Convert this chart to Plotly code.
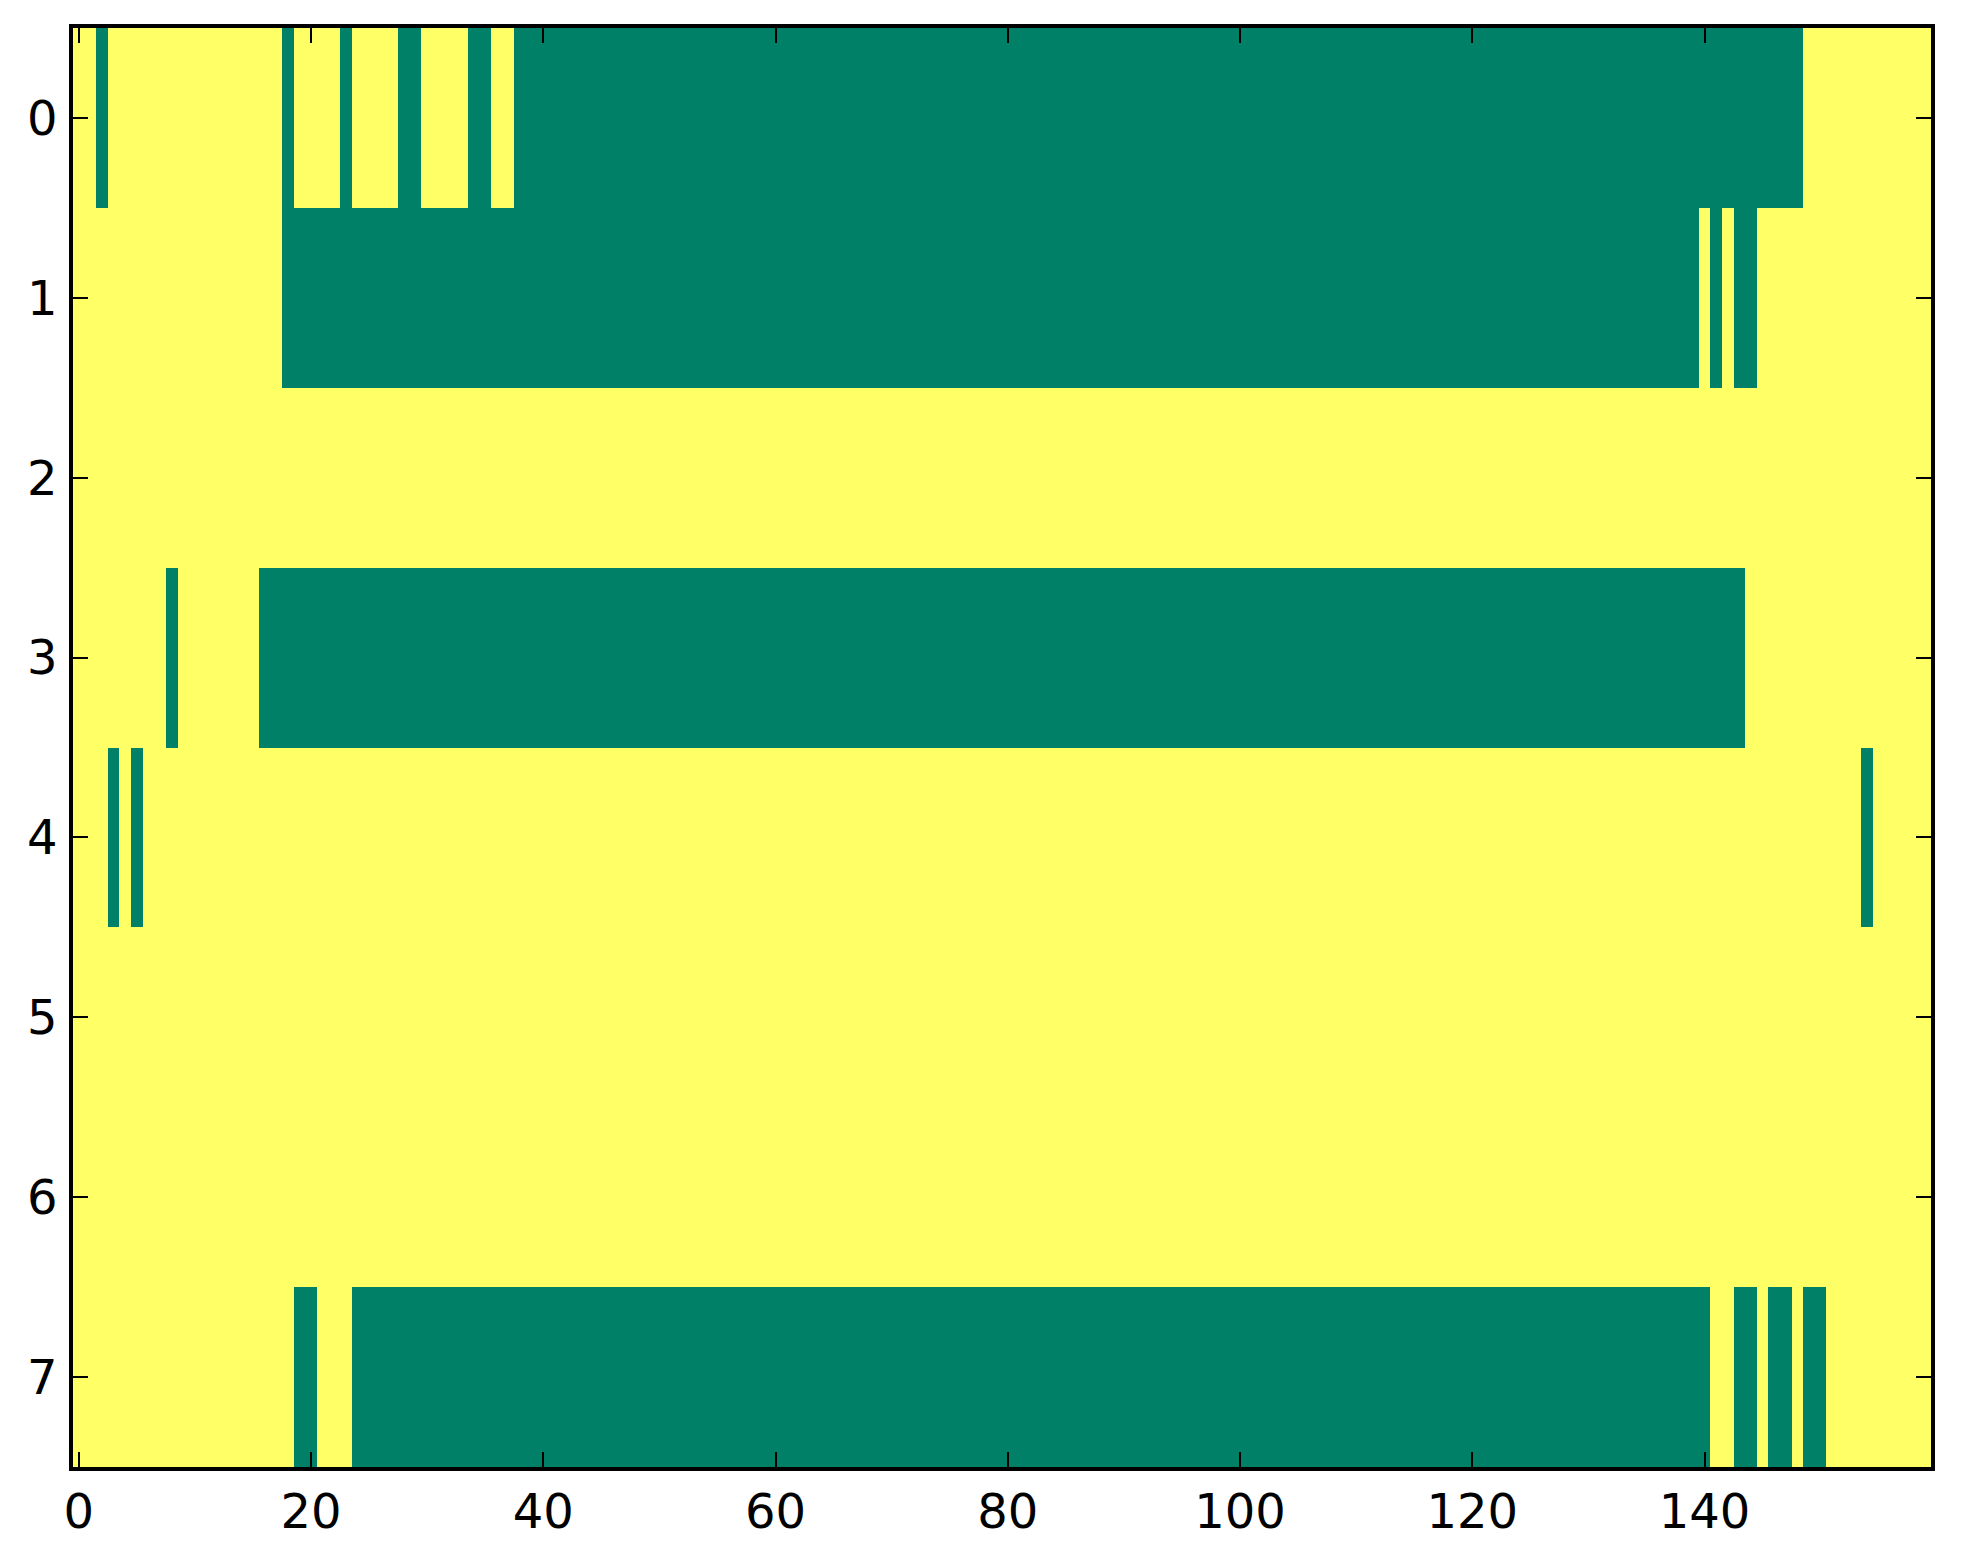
import plotly.graph_objects as go

n_cols = 160
row_labels = [0, 1, 2, 3, 4, 5, 6, 7]
# green (value 0) column runs per row, inclusive [start, end]
row0_green = [(2, 2), (18, 18), (23, 23), (28, 29), (34, 35), (38, 148)]
row1_green = [(18, 139), (141, 141), (143, 144)]
row2_green = []
row3_green = [(8, 8), (16, 143)]
row4_green = [(3, 3), (5, 5), (154, 154)]
row5_green = []
row6_green = []
row7_green = [(19, 20), (24, 140), (143, 144), (146, 147), (149, 150)]
green_runs = [row0_green, row1_green, row2_green, row3_green,
              row4_green, row5_green, row6_green, row7_green]
x_ticks = [0, 20, 40, 60, 80, 100, 120, 140]

z = []
for runs in green_runs:
    row = [1] * n_cols
    for a, b in runs:
        for c in range(a, b + 1):
            row[c] = 0
    z.append(row)

fig = go.Figure(go.Heatmap(
    z=z, x=list(range(n_cols)), y=row_labels,
    colorscale=[[0, "#008066"], [1, "#ffff66"]],
    zmin=0, zmax=1, showscale=False, hoverinfo="skip",
))

axis_common = dict(
    showgrid=False, zeroline=False, showline=True, linecolor="black",
    linewidth=3.5, mirror="allticks", ticks="inside", ticklen=15,
    tickwidth=2, tickcolor="black",
    tickfont=dict(family="DejaVu Sans", size=48, color="black"),
)
fig.update_xaxes(range=[-0.5, n_cols - 0.5], tickvals=x_ticks,
                 ticklabelstandoff=0, **axis_common)
fig.update_yaxes(range=[7.5, -0.5], tickvals=row_labels,
                 ticklabelstandoff=2, **axis_common)
fig.update_layout(
    width=1955, height=1556,
    margin=dict(l=65, r=32, t=20, b=97),
    paper_bgcolor="white", plot_bgcolor="white",
)
fig.write_html("out.html")
